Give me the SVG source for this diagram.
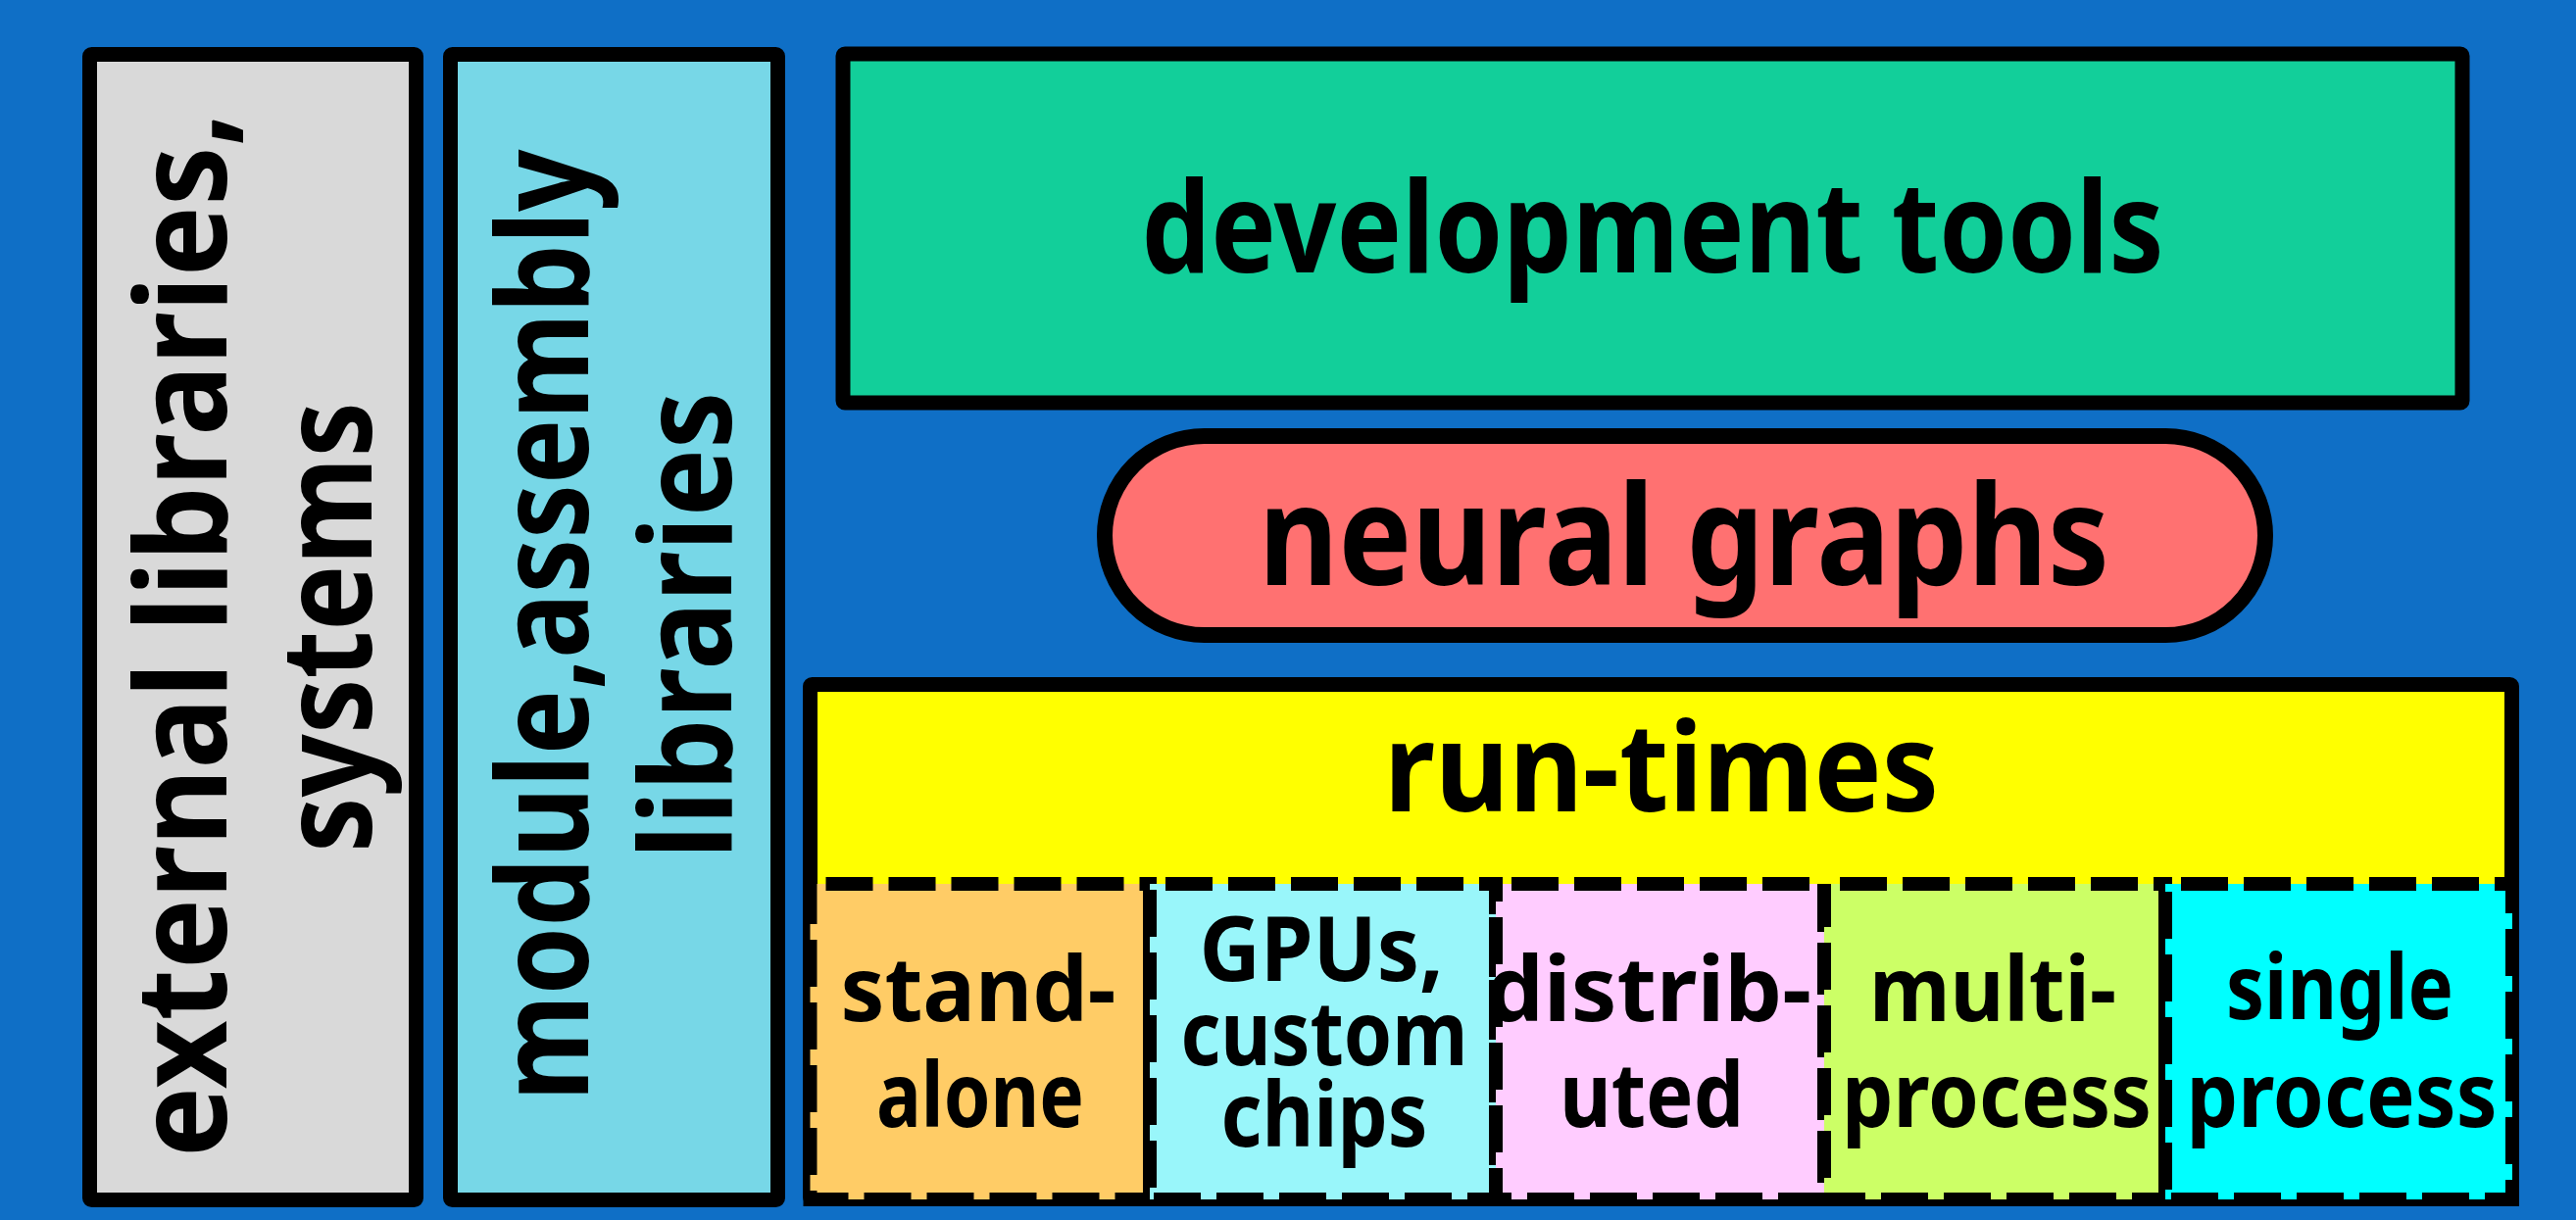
<svg xmlns="http://www.w3.org/2000/svg" width="2628" height="1245" viewBox="0 0 2628 1245">
  <style>
    .box { stroke: #000; stroke-width: 15; stroke-linejoin: round; }
    .pill { stroke: #000; stroke-width: 16; }
    .cell { stroke: none; }
    .dash { fill: none; stroke: #000; stroke-width: 14; stroke-dasharray: 48 16; stroke-dashoffset: 48; }
    text { font-family: "Noto Sans", "DejaVu Sans", sans-serif; font-weight: 700; fill: #000; text-anchor: middle; }
    .big { font-size: 130px; }
    .small { font-size: 92px; }
  </style>

  <!-- background -->
  <rect x="0" y="0" width="2628" height="1245" fill="#0F6FC6"/>

  <!-- left column: external libraries -->
  <g id="external-libraries">
    <rect class="box" x="91.5" y="55.5" width="333" height="1169" rx="2" fill="#D9D9D9"/>
    <text class="big" transform="translate(231 648) rotate(-90)" textLength="1066" lengthAdjust="spacingAndGlyphs">external libraries,</text>
    <text class="big" transform="translate(379 640) rotate(-90)" textLength="460" lengthAdjust="spacingAndGlyphs">systems</text>
  </g>

  <!-- second column: module / assembly libraries -->
  <g id="module-libraries">
    <rect class="box" x="459.5" y="55.5" width="334" height="1169" rx="2" fill="#77D7E7"/>
    <text class="big" transform="translate(600 638) rotate(-90)" textLength="971" lengthAdjust="spacingAndGlyphs">module,assembly</text>
    <text class="big" transform="translate(746 638) rotate(-90)" textLength="477" lengthAdjust="spacingAndGlyphs">libraries</text>
  </g>

  <!-- top band: development tools -->
  <g id="development-tools">
    <rect class="box" x="860" y="55" width="1652" height="356" rx="2" fill="#12CF9A"/>
    <text class="big" x="1686" y="278" font-size="129" textLength="1043" lengthAdjust="spacingAndGlyphs">development tools</text>
  </g>

  <!-- middle: neural graphs -->
  <g id="neural-graphs">
    <rect class="pill" x="1127" y="445" width="1184" height="203" rx="101.5" fill="#FF7171"/>
    <text x="1718" y="597" font-size="142" textLength="868" lengthAdjust="spacingAndGlyphs">neural graphs</text>
  </g>

  <!-- bottom: run-times container -->
  <g id="run-times">
    <rect class="box" x="826.5" y="698.5" width="1736" height="525" rx="2" fill="#FFFF00"/>
    <text x="1695" y="828" font-size="125" textLength="566" lengthAdjust="spacingAndGlyphs">run-times</text>
  </g>

  <!-- run-time variants -->
  <g id="stand-alone">
    <rect class="cell" x="826.5" y="902" width="346.5" height="322" fill="#FFCC66"/>
    <text class="small" x="998" y="1042" textLength="281" lengthAdjust="spacingAndGlyphs">stand-</text>
    <text class="small" x="1000" y="1150" textLength="212" lengthAdjust="spacingAndGlyphs">alone</text>
    <rect class="dash" x="826.5" y="902" width="346.5" height="322"/>
  </g>

  <g id="gpus-custom-chips">
    <rect class="cell" x="1173" y="902" width="353" height="322" fill="#99F6FA"/>
    <text class="small" x="1348" y="1001" textLength="249" lengthAdjust="spacingAndGlyphs">GPUs,</text>
    <text class="small" x="1351" y="1087" textLength="293" lengthAdjust="spacingAndGlyphs">custom</text>
    <text class="small" x="1351" y="1170" textLength="211" lengthAdjust="spacingAndGlyphs">chips</text>
    <rect class="dash" x="1173" y="902" width="353" height="322"/>
  </g>

  <g id="distributed">
    <rect class="cell" x="1526" y="902" width="335" height="322" fill="#FFCCFF"/>
    <text class="small" x="1682" y="1042" textLength="332" lengthAdjust="spacingAndGlyphs">distrib-</text>
    <text class="small" x="1685" y="1150" textLength="188" lengthAdjust="spacingAndGlyphs">uted</text>
    <rect class="dash" x="1526" y="902" width="335" height="322"/>
  </g>

  <g id="multi-process">
    <rect class="cell" x="1861" y="902" width="348" height="322" fill="#CCFF66"/>
    <text class="small" x="2033" y="1042" textLength="252" lengthAdjust="spacingAndGlyphs">multi-</text>
    <text class="small" x="2037" y="1150" textLength="316" lengthAdjust="spacingAndGlyphs">process</text>
    <rect class="dash" x="1861" y="902" width="348" height="322"/>
  </g>

  <g id="single-process">
    <rect class="cell" x="2209" y="902" width="354" height="322" fill="#00FFFF"/>
    <text class="small" x="2387" y="1040" textLength="232" lengthAdjust="spacingAndGlyphs">single</text>
    <text class="small" x="2389" y="1150" textLength="317" lengthAdjust="spacingAndGlyphs">process</text>
    <rect class="dash" x="2209" y="902" width="354" height="322"/>
  </g>

  <!-- no connectors in this layered diagram -->
  <g id="connectors"/>
</svg>
